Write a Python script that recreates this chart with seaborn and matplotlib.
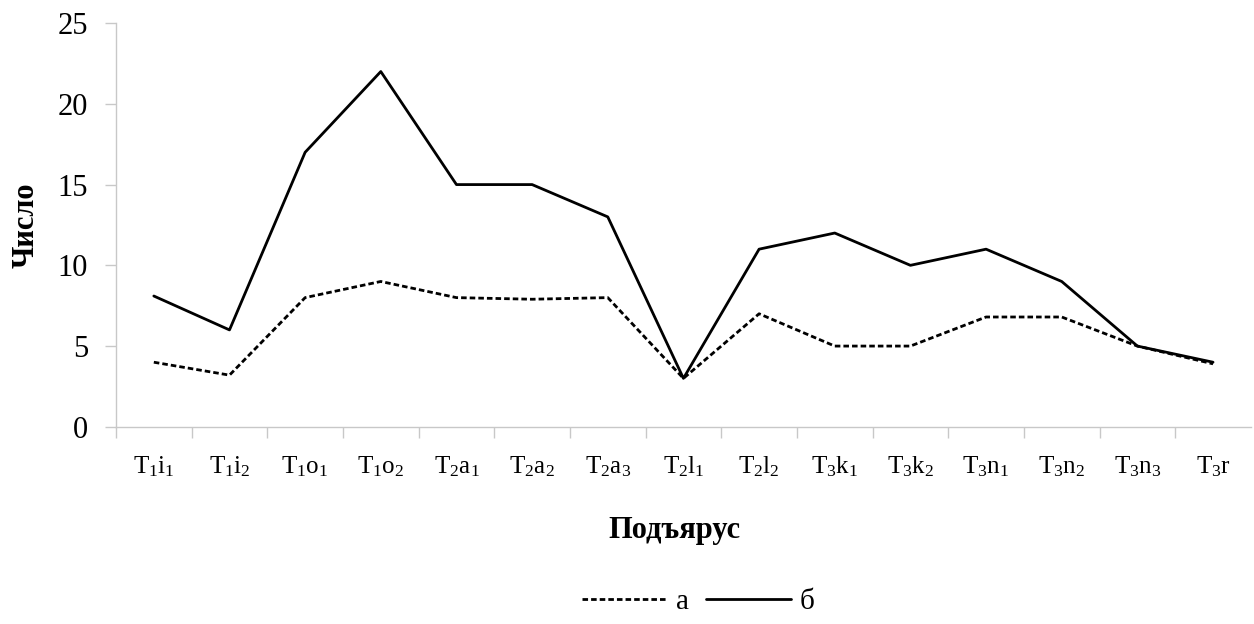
import seaborn as sns
import matplotlib.pyplot as plt
import pandas as pd

# categories (substages) and the two series
stages = ['T$_1$i$_1$', 'T$_1$i$_2$', 'T$_1$o$_1$', 'T$_1$o$_2$', 'T$_2$a$_1$',
          'T$_2$a$_2$', 'T$_2$a$_3$', 'T$_2$l$_1$', 'T$_2$l$_2$', 'T$_3$k$_1$',
          'T$_3$k$_2$', 'T$_3$n$_1$', 'T$_3$n$_2$', 'T$_3$n$_3$', 'T$_3$r']
series_a = [4, 3.2, 8, 9, 8, 7.9, 8, 3, 7, 5, 5, 6.8, 6.8, 5, 3.9]
series_b = [8.1, 6, 17, 22, 15, 15, 13, 3, 11, 12, 10, 11, 9, 5, 4]
yticks = [0, 5, 10, 15, 20, 25]

sns.set_style('white')
plt.rcParams['font.family'] = ['Liberation Serif', 'DejaVu Serif']
plt.rcParams['mathtext.fontset'] = 'custom'
plt.rcParams['mathtext.rm'] = 'Liberation Serif'
plt.rcParams['mathtext.it'] = 'Liberation Serif'
plt.rcParams['text.color'] = 'black'
plt.rcParams['axes.labelcolor'] = 'black'
plt.rcParams['xtick.labelcolor'] = 'black'
plt.rcParams['ytick.labelcolor'] = 'black'

df = pd.DataFrame({'x': range(len(stages)), 'а': series_a, 'б': series_b})

fig = plt.figure(figsize=(12.54, 6.24), dpi=100)
ax = fig.add_axes([0.0925, 0.316, 0.905, 0.647])

sns.lineplot(data=df, x='x', y='а', ax=ax, color='black', linewidth=2.0,
             linestyle=(0, (2.0, 1.1)), label='а')
sns.lineplot(data=df, x='x', y='б', ax=ax, color='black', linewidth=2.0,
             label='б')

ax.set_xlim(-0.5, len(stages) - 0.5)
ax.set_ylim(0, 25)
ax.set_yticks(yticks)
ax.set_xticks([i - 0.5 for i in range(len(stages))], minor=False)
ax.set_xticklabels([])
ax.set_xticks(range(len(stages)), minor=True)
ax.set_xticklabels(stages, minor=True, fontsize=18)
ax.tick_params(axis='x', which='major', direction='out', length=8,
               color='#c8c8c8', width=1, bottom=True)
ax.tick_params(axis='x', which='minor', length=0, pad=20, bottom=True,
               labelcolor='black')
ax.tick_params(axis='y', direction='out', length=8, color='#c8c8c8',
               width=1, labelsize=22, pad=12, left=True, labelcolor='black')

for side in ['top', 'right']:
    ax.spines[side].set_visible(False)
for side in ['left', 'bottom']:
    ax.spines[side].set_color('#c8c8c8')
    ax.spines[side].set_linewidth(1)

ax.set_xlabel('Подъярус', fontsize=22, fontweight='bold', color='black')
ax.xaxis.set_label_coords(0.4925, -0.22)
ax.set_ylabel('Число', fontsize=22, fontweight='bold', color='black')
ax.yaxis.set_label_coords(-0.066, 0.5)

ax.legend_.remove()
h, l = ax.get_legend_handles_labels()
leg = fig.legend(h, l, loc='center', bbox_to_anchor=(0.557, 0.035), ncol=2,
                 frameon=False, fontsize=21, handlelength=2.9,
                 columnspacing=0.6, handletextpad=0.3)
for t in leg.get_texts():
    t.set_color('black')

fig.savefig('out.png', dpi=100)
